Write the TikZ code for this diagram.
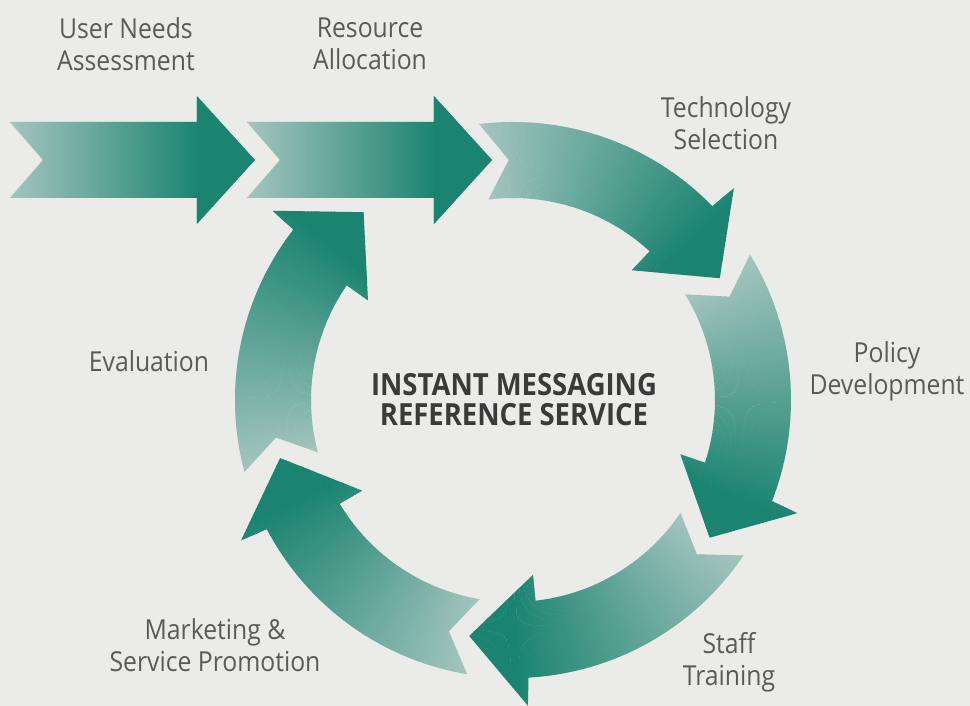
\documentclass[tikz,border=0pt]{standalone}
\usepackage{fontspec}
\setmainfont{Open Sans}[FakeStretch=0.9]

\definecolor{bg}{RGB}{235,236,233}
\definecolor{tealdark}{RGB}{27,132,112}
\definecolor{teallight}{RGB}{163,196,190}
\definecolor{labelgray}{RGB}{90,90,90}
\definecolor{titlegray}{RGB}{58,58,58}

% Curved arrow of the ring; #1 = angle of its notched tail.
% Light at the tail, turning dark teal towards the head.
\newcommand\ringarrow[1]{%
  \begin{scope}
    \clip (#1:278) arc[start angle=#1, end angle=#1-52.8, radius=278]
      -- (#1-53.2:306) -- (#1-66.5:240) -- (#1-49.5:176) -- (#1-49.6:202)
      arc[start angle=#1-49.6, end angle=#1, radius=202]
      -- (#1-6:240) -- cycle;
    \foreach \i in {0,...,140} {
      \pgfmathsetmacro\a{#1+1-\i*0.5}
      \pgfmathtruncatemacro\p{min(100,max(0,(\i*0.5-1)/55*100))}
      \fill[tealdark!\p!teallight] (0,0) -- (\a:330) -- (\a-0.6:330) -- cycle;
    }
  \end{scope}}

% Straight arrow of the top row; #1 = x of its notched tail.
\newcommand\rowarrow[1]{%
  \begin{scope}
    \clip (#1,278) -- (#1+187,278) -- (#1+187,304) -- (#1+245,240)
      -- (#1+187,176) -- (#1+187,202) -- (#1,202) -- (#1+33,240) -- cycle;
    \foreach \i in {0,...,125} {
      \pgfmathsetmacro\xx{#1-2+2*\i}
      \pgfmathtruncatemacro\p{min(100,max(0,(2*\i-2)/187*100))}
      \fill[tealdark!\p!teallight] (\xx,170) rectangle (\xx+2.6,310);
    }
  \end{scope}}

\tikzset{
  steplabel/.style={font=\fontsize{27.5}{32}\selectfont, text=labelgray,
    align=center, inner sep=0pt},
  hublabel/.style={font=\fontsize{30.5}{30}\selectfont\bfseries, text=titlegray,
    align=center, inner sep=0pt}
}

\begin{document}
\begin{tikzpicture}[x=1pt,y=1pt]
  \fill[bg] (-513,-306) rectangle (457,400);
  \useasboundingbox (-513,-306) rectangle (457,400);

  % top row leading into the cycle
  \rowarrow{-503}
  \rowarrow{-266}

  % the cycle, clockwise
  \foreach \t in {97,31.5,-34,-99.5,-165} {\ringarrow{\t}}

  % labels
  \node[steplabel] (needs)  at (-387,356)  {User Needs\\Assessment};
  \node[steplabel] (alloc)  at (-143,356)  {Resource\\Allocation};
  \node[steplabel] (tech)   at (213,277)   {Technology\\Selection};
  \node[steplabel] (policy) at (374,29)    {Policy\\Development};
  \node[steplabel] (staff)  at (216,-262)  {Staff\\Training};
  \node[steplabel] (market) at (-298,-245) {Marketing \&\\Service Promotion};
  \node[steplabel] (eval)   at (-364,39)   {Evaluation};
  \node[hublabel]  (hub)    at (1,0)       {INSTANT MESSAGING\\REFERENCE SERVICE};
\end{tikzpicture}
\end{document}
